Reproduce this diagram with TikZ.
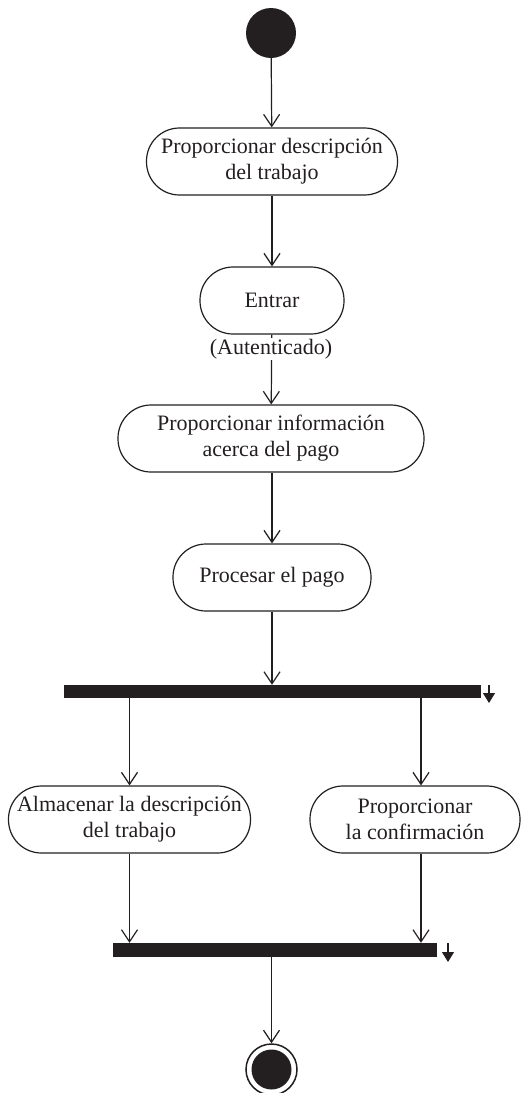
\documentclass[tikz,border=0pt]{standalone}
\usepackage{fontspec}
\setmainfont{Liberation Serif}
\usetikzlibrary{arrows.meta}
\definecolor{ink}{HTML}{231F20}
\begin{document}
\begin{tikzpicture}[x=1pt,y=-1pt,
  act/.style={draw=ink, line width=1.2pt, rounded corners=33pt, minimum height=67pt,
    align=center, font=\fontsize{22}{26}\selectfont, inner sep=0pt, text=ink},
  bar/.style={fill=ink, draw=none, inner sep=0pt, minimum height=13pt},
  arr/.style={draw=ink, line width=1.2pt, -{Straight Barb[length=12pt,width=16pt,line width=1.2pt]}},
  tick/.style={draw=ink, line width=1.2pt, -{Triangle[length=10pt,width=12pt]}},
  lbl/.style={text=ink, font=\fontsize{22}{26}\selectfont, inner sep=1pt, fill=white}
]
\useasboundingbox (0,0) rectangle (520,1093);

\node[circle, fill=ink, minimum size=50pt, inner sep=0pt] (start) at (271,33) {};
\node[act, minimum width=251pt] (a1) at (272,161.5) {Proporcionar descripción\\del trabajo};
\node[act, minimum width=144pt] (a2) at (272,300.5) {Entrar};
\node[act, minimum width=306pt] (a3) at (271,438.5) {Proporcionar información\\acerca del pago};
\node[act, minimum width=198pt] (a4) at (272,577.5) {Procesar el pago};
\node[bar, minimum width=417pt] (fork) at (272.5,691.5) {};
\node[act, minimum width=242pt] (a5) at (129.5,819.5) {Almacenar la descripción\\del trabajo};
\node[act, minimum width=210pt] (a6) at (415,819.5) {Proporcionar\\la confirmación};
\node[bar, minimum width=324pt, minimum height=14pt] (join) at (275,950) {};
\node[circle, draw=ink, line width=1.5pt, minimum size=51pt, inner sep=0pt] (end) at (271.5,1069.5) {};
\node[circle, fill=ink, minimum size=40pt, inner sep=0pt] (endin) at (end) {};

\coordinate (rx) at (421,0);
\coordinate (t1s) at (489,685);
\coordinate (t1e) at (489,703);
\coordinate (t2s) at (448,943);
\coordinate (t2e) at (448,962);

\draw[arr] (start) -- (a1);
\draw[arr] (a1) -- (a2);
\draw[arr] (a2) -- (a3);
\node[lbl] (aut) at (271,349) {(Autenticado)};
\draw[arr] (a4.north |- a3.south) -- (a4);
\draw[arr] (a4) -- (a4.south |- fork.north);
\draw[arr] (fork.south -| a5) -- (a5);
\draw[arr] (fork.south -| rx) -- (a6.north -| rx);
\draw[arr] (a5) -- (a5.south |- join.north);
\draw[arr] (a6.south -| rx) -- (join.north -| rx);
\draw[arr] (join.south -| end) -- (end);
\draw[tick] (t1s) -- (t1e);
\draw[tick] (t2s) -- (t2e);
\end{tikzpicture}
\end{document}
